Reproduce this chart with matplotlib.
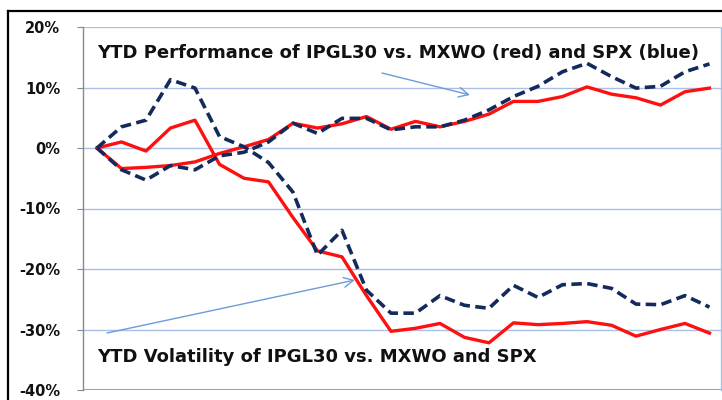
import matplotlib
matplotlib.use("Agg")
import matplotlib.pyplot as plt
from matplotlib.lines import Line2D
import numpy as np

# ---- data (percent) ----
periods = list(range(26))
mxwo_perf = [0, -3.4, -3.2, -2.9, -2.3, -0.9, 0.2, 1.4, 4.1, 3.3, 4.0, 5.2, 3.1, 4.4,
             3.5, 4.4, 5.6, 7.7, 7.7, 8.5, 10.1, 8.9, 8.3, 7.1, 9.3, 9.9]
spx_perf = [0, -3.6, -5.3, -2.9, -3.6, -1.3, -0.7, 1.0, 4.1, 2.4, 4.9, 4.9, 3.0, 3.5,
            3.5, 4.6, 6.3, 8.5, 10.2, 12.6, 14.0, 11.8, 9.9, 10.2, 12.6, 13.9]
mxwo_vol = [0, 1.0, -0.5, 3.3, 4.6, -2.7, -5.0, -5.6, -11.5, -17.0, -18.0, -24.4, -30.3,
            -29.8, -29.0, -31.3, -32.2, -28.9, -29.2, -29.0, -28.7, -29.3, -31.1, -30.0,
            -29.0, -30.6]
spx_vol = [0, 3.5, 4.6, 11.3, 9.9, 1.9, 0.2, -2.4, -7.3, -17.7, -13.6, -23.5, -27.3,
           -27.3, -24.4, -26.0, -26.5, -22.7, -24.7, -22.6, -22.4, -23.2, -25.8, -25.9,
           -24.4, -26.3]
yticks = [20, 10, 0, -10, -20, -30, -40]
ytick_labels = ["20%", "10%", "0%", "-10%", "-20%", "-30%", "-40%"]
title_perf = "YTD Performance of IPGL30 vs. MXWO (red) and SPX (blue)"
title_vol = "YTD Volatility of IPGL30 vs. MXWO and SPX"

W, H = 722, 400
fig = plt.figure(figsize=(W / 100, H / 100), dpi=100)
fig.patch.set_facecolor("white")

def fx(px):
    return px / W

def fy(py):
    return 1 - py / H

ax = fig.add_axes([fx(83), fy(390), fx(721) - fx(83), fy(27) - fy(390)])
ax.set_facecolor("white")

grid_c = "#a9bfe6"
for v in yticks:
    ax.axhline(v, color=grid_c, lw=1.0, zorder=1)
ax.axhline(-40, color="#7fa2d8", lw=1.4, zorder=1)

red = "#ff1010"
navy = "#142a5c"
ax.plot(periods, mxwo_perf, color=red, lw=2.4, solid_joinstyle="round", zorder=3)
ax.plot(periods, mxwo_vol, color=red, lw=2.4, solid_joinstyle="round", zorder=3)
for s in (spx_perf, spx_vol):
    ln, = ax.plot(periods, s, color=navy, lw=2.6, zorder=4, dash_capstyle="butt")
    ln.set_dashes((2.9, 1.5))

ax.set_xlim(-0.571, 25.47)
ax.set_ylim(-40, 20)
ax.set_xticks([])
ax.set_yticks(yticks)
ax.set_yticklabels(ytick_labels, fontweight="bold")
ax.tick_params(axis="y", length=4.5, width=0.8, color="#888888", pad=12,
               labelsize=10.5, labelcolor="#111111")

for side in ("top", "bottom"):
    ax.spines[side].set_visible(False)
ax.spines["left"].set_color("#8a8a8a")
ax.spines["left"].set_linestyle((0, (2, 1)))
ax.spines["left"].set_linewidth(1.0)
ax.spines["right"].set_color(grid_c)
ax.spines["right"].set_linestyle((0, (1, 1)))
ax.spines["right"].set_linewidth(1.0)

# annotations (axes-fraction positions derived from pixels)
def ax_xy(px, py):
    x0, x1 = 83, 721
    y0, y1 = 27, 390
    return ((px - x0) / (x1 - x0), 1 - (py - y0) / (y1 - y0))

ax.text(*ax_xy(97, 53), title_perf, transform=ax.transAxes, fontsize=13,
        fontweight="bold", color="#111111", va="center", ha="left", zorder=5)
ax.text(*ax_xy(97, 357), title_vol, transform=ax.transAxes, fontsize=13,
        fontweight="bold", color="#111111", va="center", ha="left", zorder=5)

arrow_c = "#6f9bd8"
ax.annotate("", xy=ax_xy(470, 95), xytext=ax_xy(382, 73), xycoords="axes fraction",
            textcoords="axes fraction",
            arrowprops=dict(arrowstyle="->,head_length=0.7,head_width=0.35",
                            color=arrow_c, lw=1.0, shrinkA=0, shrinkB=0), zorder=5)
ax.annotate("", xy=ax_xy(355, 280), xytext=ax_xy(107, 333), xycoords="axes fraction",
            textcoords="axes fraction",
            arrowprops=dict(arrowstyle="->,head_length=0.7,head_width=0.35",
                            color=arrow_c, lw=1.0, shrinkA=0, shrinkB=0), zorder=5)

# outer chart frame (top and left edges visible)
fig.add_artist(Line2D([fx(8), 1.0], [fy(11), fy(11)], color="black", lw=1.6,
                      transform=fig.transFigure))
fig.add_artist(Line2D([fx(8), fx(8)], [fy(11), 0.0], color="black", lw=1.6,
                      transform=fig.transFigure))

fig.savefig("out.png", dpi=100, facecolor="white")
